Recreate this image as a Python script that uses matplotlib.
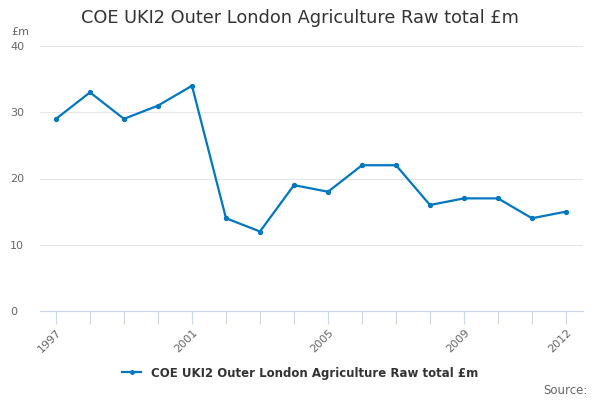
import matplotlib
matplotlib.use("Agg")
import matplotlib.pyplot as plt
from matplotlib.lines import Line2D

years = list(range(1997, 2013))
values = [29, 33, 29, 31, 34, 14, 12, 19, 18, 22, 22, 16, 17, 17, 14, 15]
label_years = [1997, 2001, 2005, 2009, 2012]
series_name = "COE UKI2 Outer London Agriculture Raw total £m"

fig = plt.figure(figsize=(6, 4), dpi=100)
ax = fig.add_axes([40/600, 1-311/400, 543/600, 265/400])
color = "#0077c0"
ax.plot(years, values, color=color, lw=1.6, marker="o", ms=2.8, zorder=3)
ax.set_xlim(1996.53, 2012.5)
ax.set_ylim(0, 40)
ax.set_yticks([0, 10, 20, 30, 40])
ax.grid(axis="y", color="#e6e6e6", lw=0.8)
ax.set_axisbelow(True)
for s in ["top", "right", "left"]:
    ax.spines[s].set_visible(False)
ax.spines["bottom"].set_color("#ccd6eb")
ax.set_xticks(years)
ax.set_xticklabels([str(y) if y in label_years else "" for y in years],
                   rotation=45, ha="right", rotation_mode="anchor", color="#666666", fontsize=8)
ax.tick_params(axis="x", length=9, color="#ccd6eb", pad=3)
ax.tick_params(axis="y", length=0, labelcolor="#666666", labelsize=8, pad=0)
for lbl in ax.get_yticklabels():
    lbl.set_ha("left")
    lbl.set_x(-0.055)
fig.text(11/600, 1-32/400, "£m", color="#666666", fontsize=8, va="center")
fig.text(300/600, 1-18/400, "COE UKI2 Outer London Agriculture Raw total £m",
         ha="center", va="center", fontsize=12.8, color="#333333")
handle = Line2D([0], [0], color=color, lw=1.6, marker="o", ms=2.5)
fig.legend([handle], [series_name], loc="center", bbox_to_anchor=(300/600, 1-373/400),
           frameon=False, prop={"weight": "bold", "size": 8.5}, handlelength=1.6,
           labelcolor="#333333")
fig.text(588/600, 1-390/400, "Source:", ha="right", va="center", fontsize=8.5, color="#666666")
fig.savefig("out.png", dpi=100)
